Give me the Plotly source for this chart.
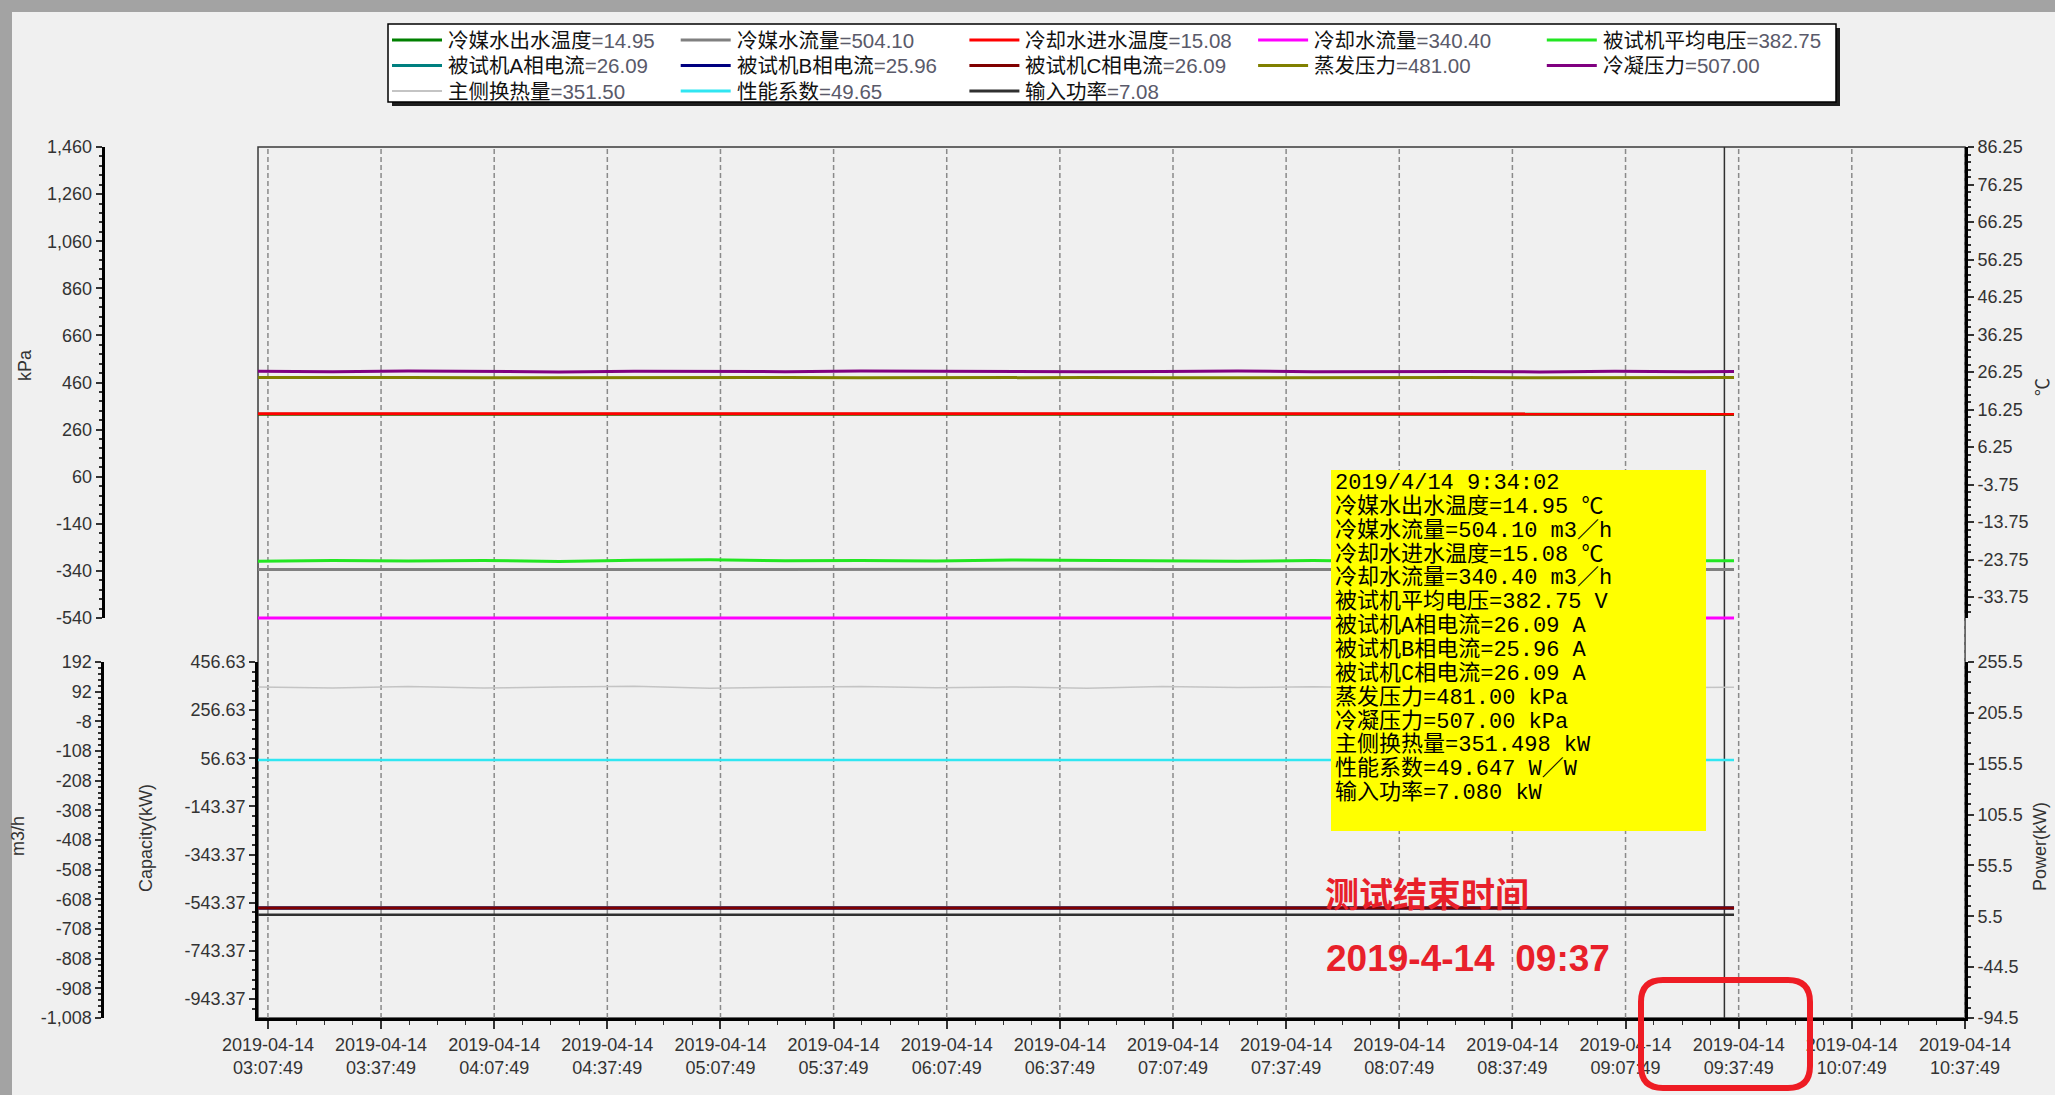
import plotly.graph_objects as go

W, H = 2055, 1095

# ---- sampled test log, 2019-04-14 ----
times = [
    "2019-04-14 03:05:11", "2019-04-14 03:25:00", "2019-04-14 03:45:00", "2019-04-14 04:05:00",
    "2019-04-14 04:25:00", "2019-04-14 04:45:00", "2019-04-14 05:05:00", "2019-04-14 05:25:00",
    "2019-04-14 05:45:00", "2019-04-14 06:05:00", "2019-04-14 06:25:00", "2019-04-14 06:45:00",
    "2019-04-14 07:05:00", "2019-04-14 07:25:00", "2019-04-14 07:45:00", "2019-04-14 08:05:00",
    "2019-04-14 08:25:00", "2019-04-14 08:45:00", "2019-04-14 09:05:00", "2019-04-14 09:25:00",
    "2019-04-14 09:34:02", "2019-04-14 09:36:35",
]

chw_out_temp = [14.97, 14.96, 14.95, 14.98, 14.96, 14.95, 14.94, 14.96, 14.97, 14.95, 14.96,
                14.94, 14.95, 14.97, 14.96, 14.95, 14.94, 14.96, 14.95, 14.96, 14.95, 14.95]
chw_flow = [503.8, 504.3, 504.0, 503.6, 504.5, 504.2, 503.9, 504.4, 504.1, 503.7, 504.2,
            504.6, 504.0, 503.8, 504.3, 504.1, 503.9, 504.2, 504.0, 504.2, 504.10, 504.10]
cw_in_temp = [15.10, 15.09, 15.08, 15.10, 15.09, 15.07, 15.08, 15.09, 15.10, 15.08, 15.07,
              15.08, 15.09, 15.08, 15.07, 15.08, 15.09, 15.08, 15.07, 15.08, 15.08, 15.08]
cw_flow = [340.6, 340.2, 340.5, 340.3, 340.7, 340.4, 340.1, 340.5, 340.3, 340.6, 340.2,
           340.4, 340.5, 340.3, 340.6, 340.4, 340.2, 340.5, 340.4, 340.3, 340.40, 340.40]
avg_voltage = [382.4, 383.2, 382.6, 383.0, 382.2, 383.4, 383.8, 382.9, 383.1, 382.5, 383.6,
               383.3, 382.8, 382.4, 383.0, 382.2, 382.6, 382.9, 382.5, 382.8, 382.75, 382.75]
cur_a = [26.12, 26.05, 26.10, 26.08, 26.14, 26.06, 26.11, 26.07, 26.10, 26.13, 26.05,
         26.09, 26.12, 26.07, 26.10, 26.06, 26.11, 26.08, 26.10, 26.07, 26.09, 26.09]
cur_b = [25.99, 25.93, 25.97, 25.95, 26.01, 25.94, 25.98, 25.95, 25.97, 26.00, 25.92,
         25.96, 25.99, 25.94, 25.97, 25.93, 25.98, 25.95, 25.97, 25.94, 25.96, 25.96]
cur_c = [26.11, 26.06, 26.10, 26.07, 26.13, 26.05, 26.12, 26.08, 26.09, 26.12, 26.06,
         26.10, 26.11, 26.06, 26.09, 26.07, 26.12, 26.08, 26.10, 26.07, 26.09, 26.09]
evap_press = [481, 482, 481, 480, 481, 482, 481, 481, 480, 481, 482,
              481, 480, 481, 482, 481, 481, 480, 481, 482, 481.00, 481.00]
cond_press = [508, 506, 509, 507, 505, 508, 507, 506, 509, 507, 508,
              506, 507, 509, 506, 508, 507, 505, 508, 506, 507.00, 507.00]
capacity = [353.2, 349.1, 355.0, 348.6, 352.4, 356.1, 347.9, 351.8, 354.6, 349.7, 352.9,
            347.5, 355.3, 350.2, 353.7, 348.4, 352.1, 349.6, 354.0, 350.8, 351.498, 351.498]
cop = [49.71, 49.58, 49.66, 49.62, 49.74, 49.60, 49.68, 49.63, 49.70, 49.57, 49.66,
       49.69, 49.61, 49.72, 49.64, 49.59, 49.67, 49.62, 49.70, 49.63, 49.647, 49.647]
power = [7.09, 7.06, 7.08, 7.10, 7.07, 7.09, 7.05, 7.08, 7.10, 7.07, 7.09,
         7.06, 7.08, 7.11, 7.07, 7.08, 7.06, 7.09, 7.08, 7.07, 7.080, 7.080]

cursor_time = "2019-04-14 09:34:02"
cursor_label = "2019/4/14 9:34:02"
end_note = "测试结束时间"
end_time_note = "2019-4-14\u00a0\u00a009:37"

# ---- axes: ranges and tick labels ----
x_range = ["2019-04-14 03:05:11", "2019-04-14 10:37:50"]
x_tickvals = ["2019-04-14 03:07:49", "2019-04-14 03:37:49", "2019-04-14 04:07:49", "2019-04-14 04:37:49",
              "2019-04-14 05:07:49", "2019-04-14 05:37:49", "2019-04-14 06:07:49", "2019-04-14 06:37:49",
              "2019-04-14 07:07:49", "2019-04-14 07:37:49", "2019-04-14 08:07:49", "2019-04-14 08:37:49",
              "2019-04-14 09:07:49", "2019-04-14 09:37:49", "2019-04-14 10:07:49", "2019-04-14 10:37:49"]
x_ticktext = ["2019-04-14<br>03:07:49", "2019-04-14<br>03:37:49", "2019-04-14<br>04:07:49",
              "2019-04-14<br>04:37:49", "2019-04-14<br>05:07:49", "2019-04-14<br>05:37:49",
              "2019-04-14<br>06:07:49", "2019-04-14<br>06:37:49", "2019-04-14<br>07:07:49",
              "2019-04-14<br>07:37:49", "2019-04-14<br>08:07:49", "2019-04-14<br>08:37:49",
              "2019-04-14<br>09:07:49", "2019-04-14<br>09:37:49", "2019-04-14<br>10:07:49",
              "2019-04-14<br>10:37:49"]

kpa_range = [-540, 1460]
kpa_tickvals = [1460, 1260, 1060, 860, 660, 460, 260, 60, -140, -340, -540]
kpa_ticktext = ["1,460", "1,260", "1,060", "860", "660", "460", "260", "60", "-140", "-340", "-540"]

flow_range = [-1008, 192]
flow_tickvals = [192, 92, -8, -108, -208, -308, -408, -508, -608, -708, -808, -908, -1008]
flow_ticktext = ["192", "92", "-8", "-108", "-208", "-308", "-408", "-508", "-608", "-708",
                 "-808", "-908", "-1,008"]

cap_range = [-1022.4, 456.63]
cap_tickvals = [456.63, 256.63, 56.63, -143.37, -343.37, -543.37, -743.37, -943.37]
cap_ticktext = ["456.63", "256.63", "56.63", "-143.37", "-343.37", "-543.37", "-743.37", "-943.37"]

temp_range = [-39.35, 86.25]
temp_tickvals = [86.25, 76.25, 66.25, 56.25, 46.25, 36.25, 26.25, 16.25, 6.25, -3.75, -13.75,
                 -23.75, -33.75]
temp_ticktext = ["86.25", "76.25", "66.25", "56.25", "46.25", "36.25", "26.25", "16.25", "6.25",
                 "-3.75", "-13.75", "-23.75", "-33.75"]

power_range = [-94.5, 255.5]
power_tickvals = [255.5, 205.5, 155.5, 105.5, 55.5, 5.5, -44.5, -94.5]
power_ticktext = ["255.5", "205.5", "155.5", "105.5", "55.5", "5.5", "-44.5", "-94.5"]

elec_range = [-87, 808]   # hidden scale for voltage / phase currents


def fx(px):
    return px / W


def fy(py):
    return 1 - py / H


X_DOM = [fx(258), fx(1965)]
UP_DOM = [fy(618), fy(147)]
LO_DOM = [fy(1018), fy(662)]
FULL_DOM = [fy(1018), fy(147)]


def stretch(rng, dom, full):
    """Same scale as rng over dom, extended to cover the full plotting height."""
    k = (rng[1] - rng[0]) / (dom[1] - dom[0])
    return [rng[0] - (dom[0] - full[0]) * k, rng[1] + (full[1] - dom[1]) * k]


flow_full = stretch(flow_range, LO_DOM, FULL_DOM)

# name, values, colour, width, y axis, unit, decimals in the readout
series = [
    ("冷媒水出水温度", chw_out_temp, "#008000", 3, "y4", "℃", 2),
    ("冷媒水流量", chw_flow, "#808080", 3, "y7", "m3／h", 2),
    ("冷却水进水温度", cw_in_temp, "#ff0000", 3, "y4", "℃", 2),
    ("冷却水流量", cw_flow, "#ff00ff", 3, "y7", "m3／h", 2),
    ("被试机平均电压", avg_voltage, "#22e622", 3, "y6", "V", 2),
    ("被试机A相电流", cur_a, "#008080", 3, "y6", "A", 2),
    ("被试机B相电流", cur_b, "#000080", 3, "y6", "A", 2),
    ("被试机C相电流", cur_c, "#800000", 3, "y6", "A", 2),
    ("蒸发压力", evap_press, "#808000", 3, "y", "kPa", 2),
    ("冷凝压力", cond_press, "#800080", 3, "y", "kPa", 2),
    ("主侧换热量", capacity, "#c4c4c4", 1.5, "y3", "kW", 3),
    ("性能系数", cop, "#30e6f2", 2.5, "y3", "W／W", 3),
    ("输入功率", power, "#303030", 2.5, "y5", "kW", 3),
]

fig = go.Figure()
# keeps the m3/h tick axis in its own subplot
fig.add_trace(go.Scatter(x=[times[0]], y=[None], yaxis="y2", showlegend=False, hoverinfo="skip"))
for name, vals, color, width, yax, unit, dec in series:
    fig.add_trace(go.Scatter(x=times, y=vals, name=name, mode="lines", yaxis=yax,
                             line=dict(color=color, width=width), showlegend=False))

TICK_FONT = dict(family="Liberation Sans, Arial, sans-serif", size=18, color="#333333")


def yax(**kw):
    base = dict(showgrid=False, zeroline=False, showline=True, linecolor="black",
                ticks="outside", ticklen=6, tickwidth=1.5, tickcolor="#333333",
                tickfont=TICK_FONT, tickmode="array", fixedrange=True, automargin=False)
    base.update(kw)
    return base


fig.update_layout(
    template="none",
    width=W, height=H,
    autosize=False,
    margin=dict(l=0, r=0, t=0, b=0, pad=0),
    paper_bgcolor="#f0f0f0",
    plot_bgcolor="rgba(0,0,0,0)",
    showlegend=False,
    xaxis=dict(domain=X_DOM, anchor="y2", type="date", range=x_range, showgrid=False,
               zeroline=False, showline=True, linewidth=3, linecolor="black", automargin=False,
               ticks="outside", ticklen=8, tickwidth=1.5, tickcolor="#333333", fixedrange=True,
               tickmode="array", tickvals=x_tickvals, ticktext=x_ticktext, tickfont=TICK_FONT,
               minor=dict(ticks="outside", ticklen=4, tickwidth=1, tickcolor="#333333",
                          dtick=450000, tick0="2019-04-14 03:07:49", showgrid=False)),
    yaxis=yax(domain=UP_DOM, anchor="free", position=fx(102.7), side="left", range=kpa_range,
              tickvals=kpa_tickvals, ticktext=kpa_ticktext, linewidth=3,
              minor=dict(ticks="outside", ticklen=3, dtick=40, tick0=60, tickcolor="#333333",
                         showgrid=False)),
    yaxis2=yax(domain=LO_DOM, anchor="free", position=fx(102.3), side="left", range=flow_range,
               tickvals=flow_tickvals, ticktext=flow_ticktext, linewidth=3,
               minor=dict(ticks="outside", ticklen=3, dtick=20, tick0=-8, tickcolor="#333333",
                          showgrid=False)),
    yaxis3=yax(overlaying="y2", anchor="x", side="left", range=cap_range,
               tickvals=cap_tickvals, ticktext=cap_ticktext, linewidth=2.5,
               minor=dict(ticks="outside", ticklen=3, dtick=40, tick0=56.63, tickcolor="#333333",
                          showgrid=False)),
    yaxis4=yax(overlaying="y", anchor="x", side="right", range=temp_range,
               tickvals=temp_tickvals, ticktext=temp_ticktext, linewidth=3,
               minor=dict(ticks="outside", ticklen=3, dtick=2, tick0=6.25, tickcolor="#333333",
                          showgrid=False)),
    yaxis5=yax(overlaying="y2", anchor="x", side="right", range=power_range,
               tickvals=power_tickvals, ticktext=power_ticktext, linewidth=3,
               minor=dict(ticks="outside", ticklen=3, dtick=10, tick0=5.5, tickcolor="#333333",
                          showgrid=False)),
    yaxis6=dict(domain=FULL_DOM, anchor="x", range=elec_range, visible=False, fixedrange=True,
                automargin=False),
    yaxis7=dict(overlaying="y6", anchor="x", range=flow_full, visible=False, fixedrange=True,
                automargin=False),
)

shapes = []
# window frame strips
shapes.append(dict(type="rect", xref="paper", yref="paper", x0=0, x1=1, y0=fy(12), y1=1,
                   fillcolor="#a3a3a3", line=dict(width=0), layer="below"))
shapes.append(dict(type="rect", xref="paper", yref="paper", x0=0, x1=fx(12), y0=0, y1=1,
                   fillcolor="#a3a3a3", line=dict(width=0), layer="below"))
# plot border
shapes.append(dict(type="rect", xref="paper", yref="paper", x0=X_DOM[0], x1=X_DOM[1],
                   y0=FULL_DOM[0], y1=FULL_DOM[1], line=dict(color="#3a3a3a", width=1.5),
                   layer="below"))
# dashed time grid through the full plot height
for t in x_tickvals:
    shapes.append(dict(type="line", xref="x", yref="paper", x0=t, x1=t,
                       y0=FULL_DOM[0], y1=FULL_DOM[1],
                       line=dict(color="#8a8a8a", width=1.5, dash="5px,3px"), layer="below"))
# cursor
shapes.append(dict(type="line", xref="x", yref="paper", x0=cursor_time, x1=cursor_time,
                   y0=FULL_DOM[0], y1=FULL_DOM[1], line=dict(color="#303030", width=1.5),
                   layer="below"))

annotations = []

# legend panel
LG_L, LG_T, LG_R, LG_B = 388, 24, 1836, 102
shapes.append(dict(type="rect", xref="paper", yref="paper", x0=fx(LG_L + 4), x1=fx(LG_R + 4),
                   y0=fy(LG_B + 4), y1=fy(LG_T + 4), fillcolor="#1e1e1e", line=dict(width=0)))
shapes.append(dict(type="rect", xref="paper", yref="paper", x0=fx(LG_L), x1=fx(LG_R),
                   y0=fy(LG_B), y1=fy(LG_T), fillcolor="white", line=dict(color="black", width=1.5)))
for i, (name, vals, color, width, yax_id, unit, dec) in enumerate(series):
    col, row = i % 5, i // 5
    lx = 392 + 288.7 * col
    ly = 40 + 25.5 * row
    shapes.append(dict(type="line", xref="paper", yref="paper", x0=fx(lx), x1=fx(lx + 50),
                       y0=fy(ly), y1=fy(ly), line=dict(color=color, width=3 if width > 2 else 2)))
    annotations.append(dict(xref="paper", yref="paper", x=fx(lx + 54), y=fy(ly),
                            xanchor="left", yanchor="middle", showarrow=False,
                            text=f"{name}<span style='color:#5a5a6a'>={vals[-1]:.2f}</span>",
                            font=dict(family="Liberation Sans, Noto Sans CJK SC, sans-serif",
                                      size=20.5, color="#111111")))

# readout box at the cursor
BX_L, BX_T, BX_R, BX_B = 1331, 470, 1706, 831
shapes.append(dict(type="rect", xref="paper", yref="paper", x0=fx(BX_L), x1=fx(BX_R),
                   y0=fy(BX_B), y1=fy(BX_T), fillcolor="#ffff00", line=dict(width=0)))
ci = times.index(cursor_time)
readout = [cursor_label] + [f"{name}={vals[ci]:.{dec}f} {unit}"
                            for name, vals, color, width, yax_id, unit, dec in series]
for j, line in enumerate(readout):
    annotations.append(dict(xref="paper", yref="paper", x=fx(BX_L + 2), y=fy(483 + 23.85 * j),
                            xanchor="left", yanchor="middle", showarrow=False, text=line,
                            font=dict(family="Liberation Mono, Noto Sans CJK SC, monospace",
                                      size=22, color="black")))

# end-of-test note
annotations.append(dict(xref="paper", yref="paper", x=fx(1323), y=fy(892), xanchor="left",
                        yanchor="middle", showarrow=False, text=f"<b>{end_note}</b>",
                        font=dict(family="Noto Sans CJK SC, sans-serif", size=34, color="#e8202a")))
annotations.append(dict(xref="paper", yref="paper", x=fx(1324), y=fy(958), xanchor="left",
                        yanchor="middle", showarrow=False, text=f"<b>{end_time_note}</b>",
                        font=dict(family="Liberation Sans, Arial, sans-serif", size=37,
                                  color="#e8202a")))
rl, rt, rr, rb, rad = 1641, 980, 1810, 1088, 22
path = (f"M {fx(rl + rad)} {fy(rt)} L {fx(rr - rad)} {fy(rt)} Q {fx(rr)} {fy(rt)} {fx(rr)} {fy(rt + rad)} "
        f"L {fx(rr)} {fy(rb - rad)} Q {fx(rr)} {fy(rb)} {fx(rr - rad)} {fy(rb)} "
        f"L {fx(rl + rad)} {fy(rb)} Q {fx(rl)} {fy(rb)} {fx(rl)} {fy(rb - rad)} "
        f"L {fx(rl)} {fy(rt + rad)} Q {fx(rl)} {fy(rt)} {fx(rl + rad)} {fy(rt)} Z")
shapes.append(dict(type="path", xref="paper", yref="paper", path=path,
                   line=dict(color="#ee1c24", width=6)))

# axis titles
TITLE_FONT = dict(family="Liberation Sans, Noto Sans CJK SC, sans-serif", size=18, color="#333333")
for txt, px, py in [("kPa", 25, 365), ("m3/h", 18, 836), ("Capacity(kW)", 146, 838),
                    ("℃", 2043, 387), ("Power(kW)", 2040, 847)]:
    annotations.append(dict(xref="paper", yref="paper", x=fx(px), y=fy(py), xanchor="center",
                            yanchor="middle", showarrow=False, text=txt, textangle=-90,
                            font=TITLE_FONT))

fig.update_layout(shapes=shapes, annotations=annotations)
fig.write_html("out.html")
